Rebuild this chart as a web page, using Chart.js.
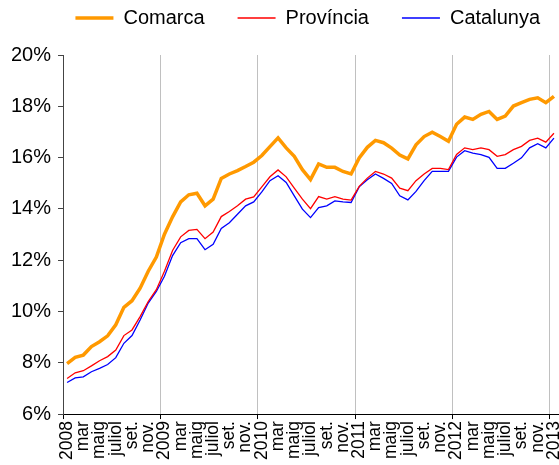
<!DOCTYPE html>
<html>
<head>
<meta charset="utf-8">
<script src="https://cdn.jsdelivr.net/npm/chart.js@4.4.0/dist/chart.umd.min.js"></script>
<style>
  html, body { margin: 0; padding: 0; background: #fff; }
</style>
</head>
<body>
<canvas id="atur" width="559" height="465"></canvas>
<script>
// mesos en catala, nomes es veuen els parells
var mesos = ["gen.", "febr.", "mar", "abr.", "maig", "juny", "juliol", "ag.", "set.", "oct.", "nov.", "des."];
var anys = ["2008", "2009", "2010", "2011", "2012", "2013"];

var comarca = [7.97, 8.21, 8.30, 8.63, 8.82, 9.05, 9.48, 10.16, 10.42, 10.91, 11.57, 12.12,
    13.01, 13.69, 14.27, 14.55, 14.61, 14.12, 14.38, 15.19, 15.36, 15.49, 15.65, 15.82,
    16.08, 16.43, 16.77, 16.38, 16.05, 15.53, 15.14, 15.75, 15.62, 15.62, 15.46, 15.36,
    15.99, 16.40, 16.67, 16.58, 16.37, 16.10, 15.95, 16.50, 16.82, 16.99, 16.82, 16.64,
    17.30, 17.58, 17.49, 17.69, 17.80, 17.49, 17.62, 18.01, 18.14, 18.27, 18.33, 18.14,
    18.39];
var provincia = [7.39, 7.61, 7.69, 7.88, 8.08, 8.24, 8.50, 9.06, 9.28, 9.80, 10.39, 10.85,
    11.57, 12.38, 12.91, 13.16, 13.20, 12.84, 13.10, 13.70, 13.90, 14.12, 14.38, 14.47,
    14.86, 15.25, 15.52, 15.25, 14.81, 14.38, 14.01, 14.48, 14.38, 14.48, 14.38, 14.34,
    14.88, 15.20, 15.46, 15.36, 15.20, 14.81, 14.71, 15.10, 15.36, 15.58, 15.58, 15.53,
    16.12, 16.38, 16.31, 16.38, 16.31, 16.05, 16.12, 16.31, 16.44, 16.67, 16.76, 16.60,
    16.95];
var catalunya = [7.23, 7.41, 7.45, 7.65, 7.78, 7.93, 8.20, 8.76, 9.06, 9.67, 10.33, 10.78,
    11.37, 12.18, 12.68, 12.84, 12.84, 12.41, 12.62, 13.24, 13.46, 13.79, 14.12, 14.27,
    14.66, 15.10, 15.29, 15.03, 14.51, 13.99, 13.66, 14.05, 14.12, 14.31, 14.27, 14.25,
    14.86, 15.14, 15.36, 15.19, 14.99, 14.51, 14.35, 14.68, 15.10, 15.46, 15.46, 15.46,
    16.02, 16.27, 16.17, 16.12, 16.01, 15.58, 15.58, 15.78, 15.99, 16.38, 16.54, 16.38,
    16.76];

var labels = [];
for (var a = 0; a < anys.length; a++) {
    for (var m = 0; m < 12; m++) {
        if (labels.length >= comarca.length) break;
        labels.push(m == 0 ? anys[a] : mesos[m]);
    }
}

var font = "'Liberation Sans', Arial, sans-serif";

var ctx = document.getElementById("atur");
var chart = new Chart(ctx, {
    type: "line",
    data: {
        labels: labels,
        datasets: [{
            label: "Comarca",
            data: comarca,
            borderColor: "#ff9900",
            backgroundColor: "#ff9900",
            borderWidth: 3.5
        }, {
            label: "Província",
            data: provincia,
            borderColor: "#ff0000",
            backgroundColor: "#ff0000",
            borderWidth: 1.3
        }, {
            label: "Catalunya",
            data: catalunya,
            borderColor: "#0000ff",
            backgroundColor: "#0000ff",
            borderWidth: 1.3
        }]
    },
    options: {
        responsive: false,
        animation: false,
        layout: {
            padding: { top: -25, left: 4, right: -14, bottom: 3 }
        },
        elements: {
            point: { radius: 0 },
            line: { tension: 0 }
        },
        plugins: {
            legend: {
                position: "top",
                align: "end",
                labels: {
                    boxWidth: 38,
                    boxHeight: 0,
                    padding: 33,
                    color: "#000",
                    font: { family: font, size: 20 }
                }
            },
            // espai buit entre llegenda i grafic
            title: {
                display: true,
                text: "",
                weight: 500,
                padding: { top: 5, bottom: 0 },
                font: { size: 10 }
            },
            tooltip: { enabled: false }
        },
        scales: {
            x: {
                offset: true,
                border: { color: "#000", width: 1 },
                grid: {
                    offset: true,
                    tickLength: 5,
                    color: function(c) {
                        return (c.index > 0 && c.index % 12 == 0) ? "#c0c0c0" : "rgba(0,0,0,0)";
                    },
                    tickColor: function(c) {
                        return (c.index % 12 == 0) ? "#000" : "rgba(0,0,0,0)";
                    }
                },
                ticks: {
                    autoSkip: false,
                    minRotation: 90,
                    maxRotation: 90,
                    padding: 2,
                    color: "#000",
                    font: { family: font, size: 17.5 },
                    callback: function(value, index) {
                        return index % 2 == 0 ? this.getLabelForValue(value) : "";
                    }
                },
                afterFit: function(scale) {
                    // l'etiqueta girada de 2013 no necessita tant de marge
                    scale.paddingRight = 1;
                }
            },
            y: {
                min: 6,
                max: 20,
                border: { color: "#444", width: 1 },
                grid: {
                    drawOnChartArea: false,
                    tickLength: 5,
                    color: "#444"
                },
                ticks: {
                    stepSize: 2,
                    padding: 7,
                    color: "#000",
                    font: { family: font, size: 20 },
                    callback: function(v) { return v + "%"; }
                }
            }
        }
    }
});
</script>
</body>
</html>
